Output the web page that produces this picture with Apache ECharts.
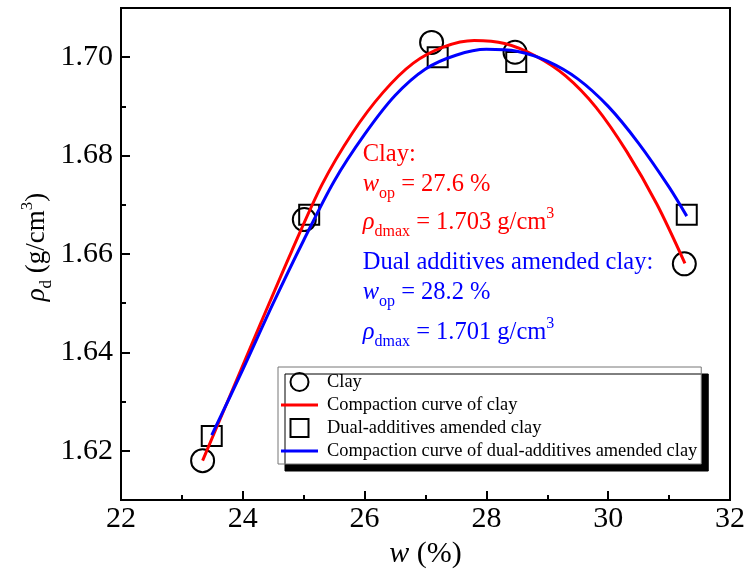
<!DOCTYPE html>
<html>
<head>
<meta charset="utf-8">
<script src="https://cdn.jsdelivr.net/npm/echarts@6/dist/echarts.min.js"></script>
<style>
  html, body { margin: 0; padding: 0; background: #fff; }
  #chart { width: 749px; height: 572px; }
</style>
</head>
<body>
<div id="chart"></div>
<script>
// Measured points: water content w (%) and dry density (g/cm3)
const clayW = [23.34, 25.01, 27.10, 28.47, 31.25];
const clayRho = [1.618, 1.667, 1.703, 1.701, 1.658];
const dualW = [23.49, 25.09, 27.20, 28.49, 31.29];
const dualRho = [1.623, 1.668, 1.700, 1.699, 1.668];

// Fitted compaction curves
const clayCurveW = [23.34, 23.8, 24.3, 24.8, 25.3, 25.8, 26.3, 26.8, 27.3, 27.8, 28.3, 28.8, 29.3, 29.8, 30.3, 30.8, 31.26];
const clayCurveRho = [1.6180, 1.6315, 1.6461, 1.6605, 1.6741, 1.6846, 1.6928, 1.6988, 1.7021, 1.7034, 1.7028, 1.7003, 1.6962, 1.6898, 1.6809, 1.6701, 1.6581];
const dualCurveW = [23.49, 24.0, 24.5, 25.0, 25.5, 26.0, 26.5, 27.0, 27.5, 28.0, 28.5, 29.0, 29.5, 30.0, 30.5, 31.0, 31.29];
const dualCurveRho = [1.6232, 1.6365, 1.6500, 1.6628, 1.6748, 1.6843, 1.6922, 1.6976, 1.7004, 1.7016, 1.7012, 1.6992, 1.6956, 1.6900, 1.6825, 1.6736, 1.6677];

// Axis ticks
const yLabelValues = [1.62, 1.64, 1.66, 1.68, 1.70];

const seriesNames = [
  'Clay',
  'Compaction curve of clay',
  'Dual-additives amended clay',
  'Compaction curve of dual-additives amended clay'
];

const FONT = 'Liberation Serif';
const RED = '#ff0000';
const BLUE = '#0000ff';
const zip = (a, b) => a.map((v, i) => [v, b[i]]);

const chart = echarts.init(document.getElementById('chart'));

const richMain = (color, size) => ({
  i: { fontFamily: FONT, fontStyle: 'italic', fontSize: size, color: color, lineHeight: 34 },
  n: { fontFamily: FONT, fontSize: size, color: color, lineHeight: 34 },
  sub: { fontFamily: FONT, fontSize: 16, color: color, verticalAlign: 'bottom', lineHeight: 17 },
  sup: { fontFamily: FONT, fontSize: 16, color: color, verticalAlign: 'top', lineHeight: 24 }
});

function noteLine(x, y, text, color) {
  return {
    type: 'text', x: x, y: y, z: 10,
    style: {
      text: text, fill: color, font: '24.5px "' + FONT + '"',
      verticalAlign: 'middle', align: 'left',
      rich: richMain(color, 24.5)
    }
  };
}

const hollow = { color: 'rgba(0,0,0,0)', borderColor: '#000', borderWidth: 2, opacity: 1 };

chart.setOption({
  backgroundColor: '#fff',
  animation: false,
  grid: {
    left: 121, right: 19, top: 8, bottom: 72,
    show: true, borderColor: '#000', borderWidth: 2,
    outerBoundsMode: 'none'
  },
  xAxis: {
    type: 'value', min: 22, max: 32, interval: 2,
    name: '{i|w}{n| (%)}', nameLocation: 'middle', nameGap: 37,
    nameTextStyle: {
      fontFamily: FONT, fontSize: 30, color: '#000',
      rich: {
        i: { fontFamily: FONT, fontStyle: 'italic', fontSize: 30, color: '#000' },
        n: { fontFamily: FONT, fontSize: 30, color: '#000' }
      }
    },
    axisLine: { lineStyle: { color: '#000', width: 2 } },
    axisTick: { inside: true, length: 9, lineStyle: { color: '#000', width: 2 } },
    minorTick: { show: true, splitNumber: 2, length: 5, lineStyle: { color: '#000', width: 2 } },
    axisLabel: { fontFamily: FONT, fontSize: 30, color: '#000', margin: 4 },
    splitLine: { show: false }
  },
  yAxis: [{
    type: 'value', min: 1.61, max: 1.71, interval: 0.01,
    name: '{i|ρ}{sub|d}{n| (g/cm}{sup|3}{n|)}', nameLocation: 'middle', nameGap: 66, nameRotate: 90,
    nameMoveOverlap: false,
    nameTextStyle: {
      fontFamily: FONT, fontSize: 27, color: '#000', padding: [0, 0, 0, 14],
      rich: {
        i: { fontFamily: FONT, fontStyle: 'italic', fontSize: 27, color: '#000', lineHeight: 36 },
        n: { fontFamily: FONT, fontSize: 27, color: '#000', lineHeight: 36 },
        sub: { fontFamily: FONT, fontSize: 17, color: '#000', verticalAlign: 'bottom', lineHeight: 18 },
        sup: { fontFamily: FONT, fontSize: 17, color: '#000', verticalAlign: 'top', lineHeight: 29 }
      }
    },
    axisLine: { lineStyle: { color: '#000', width: 2 } },
    axisTick: { inside: true, length: 9, customValues: yLabelValues, lineStyle: { color: '#000', width: 2 } },
    axisLabel: {
      fontFamily: FONT, fontSize: 30, color: '#000', margin: 8,
      customValues: yLabelValues,
      formatter: v => v.toFixed(2)
    },
    splitLine: { show: false }
  }, {
    type: 'value', min: 1.61, max: 1.71, interval: 0.01, position: 'left', offset: 0,
    axisLine: { show: false },
    axisTick: { inside: true, length: 5, lineStyle: { color: '#000', width: 2 } },
    axisLabel: { show: false },
    splitLine: { show: false }
  }],
  legend: {
    orient: 'vertical', left: 278, top: 367,
    itemWidth: 37, itemHeight: 18, itemGap: 4,
    symbolKeepAspect: true,
    padding: [5, 4, 4, 3],
    backgroundColor: '#fff', borderColor: '#777', borderWidth: 1,
    shadowColor: '#000', shadowBlur: 0, shadowOffsetX: 7, shadowOffsetY: 7,
    textStyle: { fontFamily: FONT, fontSize: 18.4, color: '#000', padding: [0, 0, 0, 4] },
    data: [
      { name: seriesNames[0], icon: 'circle', itemStyle: hollow },
      { name: seriesNames[1], icon: 'path://M0,0H37V3H0Z', itemStyle: { color: RED, borderWidth: 0 } },
      { name: seriesNames[2], icon: 'path://M0,0H17V17H0Z', itemStyle: hollow },
      { name: seriesNames[3], icon: 'path://M0,0H37V3H0Z', itemStyle: { color: BLUE, borderWidth: 0 } }
    ]
  },
  series: [{
    name: seriesNames[0], type: 'scatter', symbol: 'circle', symbolSize: 23, z: 2,
    itemStyle: hollow,
    data: zip(clayW, clayRho)
  }, {
    name: seriesNames[1], type: 'line', smooth: 0.3, symbol: 'none', z: 3,
    lineStyle: { color: RED, width: 3 }, itemStyle: { color: RED },
    data: zip(clayCurveW, clayCurveRho)
  }, {
    name: seriesNames[2], type: 'scatter', symbol: 'rect', symbolSize: 20, z: 2,
    itemStyle: hollow,
    data: zip(dualW, dualRho)
  }, {
    name: seriesNames[3], type: 'line', smooth: 0.3, symbol: 'none', z: 3,
    lineStyle: { color: BLUE, width: 3 }, itemStyle: { color: BLUE },
    data: zip(dualCurveW, dualCurveRho)
  }],
  graphic: [
    noteLine(362.7, 154.3, '{n|Clay:}', RED),
    noteLine(362.7, 184.3, '{i|w}{sub|op}{n| = 27.6 %}', RED),
    noteLine(362.7, 222.6, '{i|ρ}{sub|dmax}{n| = 1.703 g/cm}{sup|3}', RED),
    noteLine(362.7, 262.6, '{n|Dual additives amended clay:}', BLUE),
    noteLine(362.7, 292.6, '{i|w}{sub|op}{n| = 28.2 %}', BLUE),
    noteLine(362.7, 332.6, '{i|ρ}{sub|dmax}{n| = 1.701 g/cm}{sup|3}', BLUE)
  ]
});
</script>
</body>
</html>
